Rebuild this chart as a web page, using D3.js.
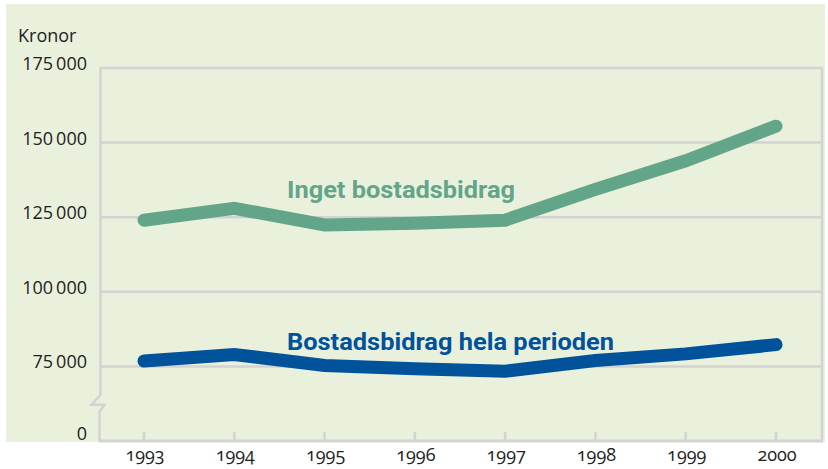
<!DOCTYPE html>
<html lang="sv">
<head>
    <meta charset="UTF-8">
    <title>Kronor</title>
    <script src="https://d3js.org/d3.v7.min.js"></script>
    <style>
        body { margin: 0; background: #fff; }
        .tick-label { font-family: "Open Sans", sans-serif; font-size: 18px; fill: #222; }
        .year-label { font-family: "Open Sans", sans-serif; font-size: 18px; fill: #222; font-variant-numeric: oldstyle-nums; }
        .series-label { font-family: Roboto, sans-serif; font-weight: bold; font-size: 23px; }
    </style>
</head>
<body>
<script>

    // data
    var years = [1993, 1994, 1995, 1996, 1997, 1998, 1999, 2000];
    var ingetBidrag = [124000, 128000, 122400, 123000, 124000, 134300, 143900, 155500];
    var helaPerioden = [76800, 79000, 75300, 74200, 73400, 77000, 79200, 82300];
    var seriesNames = ["Inget bostadsbidrag", "Bostadsbidrag hela perioden"];
    var yTicks = [175000, 150000, 125000, 100000, 75000];
    var yTickLabels = ["175\u2009000", "150\u2009000", "125\u2009000", "100\u2009000", "75\u2009000"];
    var zeroLabel = "0";

    var width = 828;
    var height = 469;

    var green = "#62a589";
    var blue = "#00529b";
    var grid = "#d2d3d2";

    var svg = d3.select("body")
        .append("svg")
        .attr("width", width)
        .attr("height", height);

    // background panel
    svg.append("rect")
        .attr("x", 6).attr("y", 4)
        .attr("width", 819).attr("height", 438)
        .attr("fill", "#e9f1dd");

    var plotLeft = 99.5, plotRight = 822, plotTop = 68, plotBottom = 441;

    var x = d3.scaleLinear().domain([1993, 2000]).range([144, 776]);
    // broken axis: the step below 75 000 stands for 0
    var y = d3.scaleLinear().domain([50000, 175000]).range([plotBottom, plotTop]);

    // grid lines
    svg.selectAll("line.grid")
        .data(yTicks)
        .enter()
        .append("line")
        .attr("class", "grid")
        .attr("x1", plotLeft).attr("x2", plotRight)
        .attr("y1", function(d) { return y(d); })
        .attr("y2", function(d) { return y(d); })
        .attr("stroke", grid)
        .attr("stroke-width", 2.5);

    // y labels
    svg.selectAll("text.tick-label")
        .data(yTicks)
        .enter()
        .append("text")
        .attr("class", "tick-label")
        .attr("x", 87)
        .attr("y", function(d) { return y(d) + 2; })
        .attr("text-anchor", "end")
        .text(function(d, i) { return yTickLabels[i]; });

    svg.append("text")
        .attr("class", "tick-label")
        .attr("x", 87)
        .attr("y", y(50000) - 1)
        .attr("text-anchor", "end")
        .text(zeroLabel);

    svg.append("text")
        .attr("class", "tick-label")
        .attr("x", 18)
        .attr("y", 42)
        .text("Kronor");

    // left axis with break mark
    var breakY = y(62500);
    svg.append("path")
        .attr("d", "M" + (plotLeft + 1) + "," + plotTop +
            "L" + (plotLeft + 1) + "," + (breakY - 9) +
            "L" + (plotLeft - 8) + "," + (breakY + 1) +
            "L" + (plotLeft + 5) + "," + (breakY + 1) +
            "L" + plotLeft + "," + (breakY + 8) +
            "L" + plotLeft + "," + plotBottom)
        .attr("fill", "none")
        .attr("stroke", grid)
        .attr("stroke-width", 2.5);

    // right axis
    svg.append("line")
        .attr("x1", plotRight).attr("x2", plotRight)
        .attr("y1", plotTop - 1).attr("y2", plotBottom)
        .attr("stroke", grid)
        .attr("stroke-width", 2.5);

    // bottom axis
    svg.append("line")
        .attr("x1", plotLeft - 1).attr("x2", plotRight + 1)
        .attr("y1", plotBottom).attr("y2", plotBottom)
        .attr("stroke", grid)
        .attr("stroke-width", 3);

    // x ticks
    svg.selectAll("line.xtick")
        .data(years)
        .enter()
        .append("line")
        .attr("class", "xtick")
        .attr("x1", function(d) { return x(d); })
        .attr("x2", function(d) { return x(d); })
        .attr("y1", plotBottom - 9).attr("y2", plotBottom)
        .attr("stroke", grid)
        .attr("stroke-width", 2.5);

    svg.selectAll("text.year-label")
        .data(years)
        .enter()
        .append("text")
        .attr("class", "year-label")
        .attr("x", function(d) { return x(d) + 1; })
        .attr("y", 461)
        .attr("text-anchor", "middle")
        .text(function(d) { return d; });

    // lines
    var line = d3.line()
        .x(function(d, i) { return x(years[i]); })
        .y(function(d) { return y(d); });

    [[ingetBidrag, green], [helaPerioden, blue]].forEach(function(s) {
        svg.append("path")
            .datum(s[0])
            .attr("d", line)
            .attr("fill", "none")
            .attr("stroke", s[1])
            .attr("stroke-width", 13)
            .attr("stroke-linecap", "round")
            .attr("stroke-linejoin", "miter");
    });

    // series labels
    svg.append("text")
        .attr("class", "series-label")
        .attr("x", 287).attr("y", 198)
        .attr("fill", green)
        .attr("textLength", 228)
        .attr("lengthAdjust", "spacingAndGlyphs")
        .text(seriesNames[0]);

    svg.append("text")
        .attr("class", "series-label")
        .attr("x", 287).attr("y", 350)
        .attr("fill", blue)
        .attr("textLength", 327)
        .attr("lengthAdjust", "spacingAndGlyphs")
        .text(seriesNames[1]);

</script>
</body>
</html>
